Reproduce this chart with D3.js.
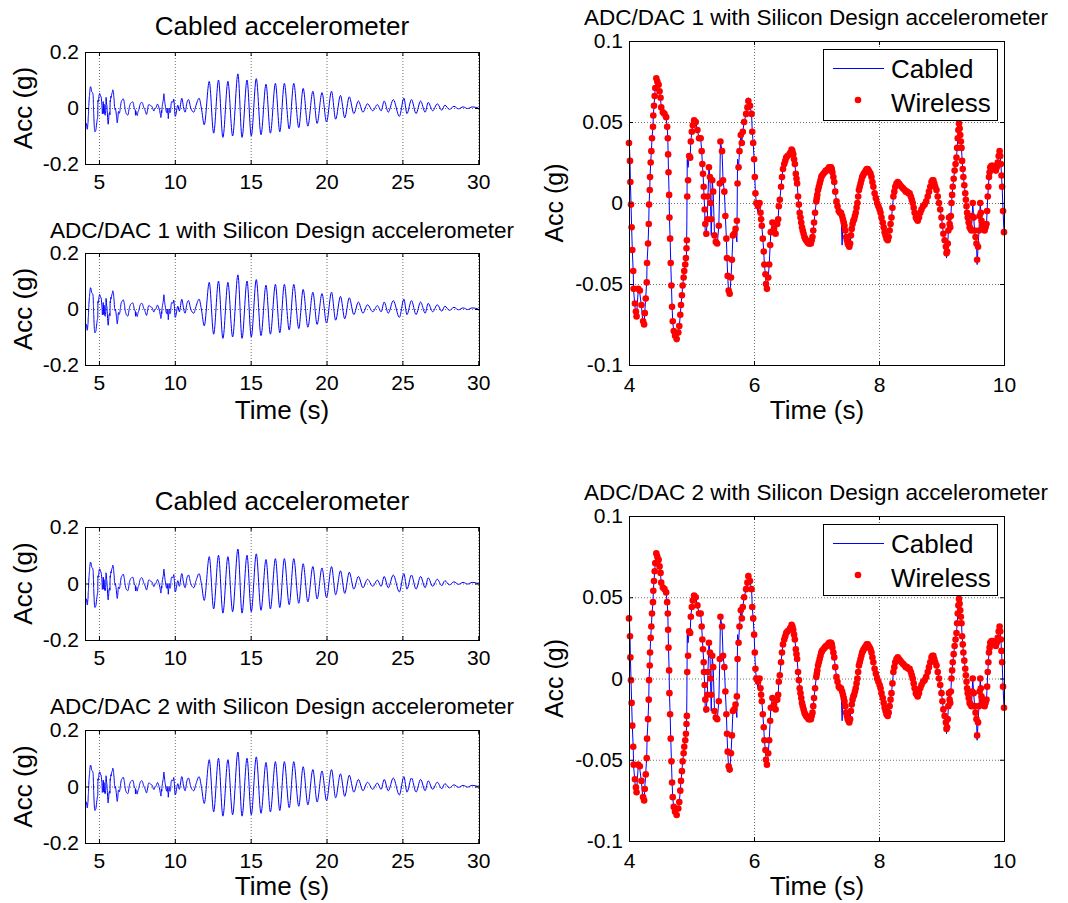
<!DOCTYPE html>
<html>
<head>
<meta charset="utf-8">
<script src="https://cdn.jsdelivr.net/npm/d3@7"></script>
<style>
body { margin: 0; background: #fff; }
svg { display: block; }
text { font-family: "Liberation Sans", Arial, sans-serif; fill: #000; }
</style>
</head>
<body>
<script>
// 4-10 s window, cabled line and wireless samples on one time base
var zoomTime = [
 4.000,4.016,4.022,4.032,4.042,4.053,4.068,4.074,4.095,4.111,
 4.121,4.147,4.174,4.200,4.226,4.242,4.253,4.268,4.284,4.289,
 4.305,4.316,4.321,4.332,4.337,4.347,4.358,4.368,4.384,4.389,
 4.400,4.411,4.421,4.437,4.453,4.474,4.489,4.505,4.516,4.542,
 4.568,4.595,4.611,4.621,4.626,4.632,4.642,4.647,4.658,4.668,
 4.679,4.689,4.700,4.716,4.737,4.763,4.789,4.805,4.821,4.832,
 4.847,4.858,4.874,4.884,4.900,4.911,4.920,4.926,4.932,4.945,
 4.963,4.979,4.989,5.005,5.021,5.042,5.068,5.095,5.121,5.147,
 5.163,5.174,5.184,5.195,5.200,5.211,5.221,5.237,5.253,5.263,
 5.279,5.295,5.305,5.316,5.332,5.347,5.368,5.389,5.411,5.437,
 5.453,5.463,5.489,5.505,5.526,5.542,5.558,5.568,5.579,5.595,
 5.611,5.632,5.647,5.663,5.684,5.705,5.726,5.737,5.753,5.768,
 5.789,5.805,5.821,5.842,5.874,5.895,5.910,5.936,5.961,5.972,
 5.987,6.002,6.013,6.023,6.038,6.064,6.089,6.105,6.115,6.125,
 6.141,6.156,6.166,6.182,6.192,6.207,6.228,6.243,6.259,6.269,
 6.295,6.320,6.346,6.372,6.387,6.397,6.413,6.433,6.448,6.464,
 6.484,6.500,6.515,6.536,6.566,6.580,6.602,6.615,6.628,6.641,
 6.654,6.669,6.680,6.690,6.705,6.718,6.731,6.744,6.756,6.768,
 6.780,6.794,6.807,6.820,6.833,6.853,6.874,6.892,6.910,6.923,
 6.936,6.948,6.961,6.977,6.997,7.005,7.013,7.025,7.038,7.051,
 7.064,7.077,7.089,7.110,7.131,7.150,7.166,7.185,7.202,7.218,
 7.233,7.244,7.254,7.270,7.284,7.300,7.320,7.336,7.356,7.375,
 7.392,7.410,7.423,7.436,7.448,7.461,7.474,7.487,7.500,7.512,
 7.525,7.538,7.551,7.564,7.577,7.590,7.602,7.615,7.628,7.641,
 7.654,7.667,7.679,7.692,7.705,7.718,7.731,7.744,7.756,7.773,
 7.790,7.805,7.820,7.835,7.850,7.865,7.880,7.895,7.910,7.930,
 7.950,7.970,7.990,8.010,8.025,8.040,8.060,8.075,8.090,8.105,
 8.120,8.140,8.155,8.170,8.185,8.200,8.215,8.230,8.245,8.260,
 8.280,8.300,8.320,8.340,8.360,8.385,8.410,8.430,8.450,8.470,
 8.490,8.510,8.525,8.540,8.555,8.570,8.590,8.605,8.620,8.640,
 8.660,8.680,8.705,8.730,8.755,8.780,8.800,8.820,8.840,8.855,
 8.870,8.885,8.900,8.920,8.940,8.960,8.980,9.000,9.015,9.030,
 9.050,9.070,9.080,9.090,9.100,9.110,9.120,9.130,9.140,9.150,
 9.160,9.170,9.180,9.195,9.210,9.225,9.240,9.250,9.260,9.270,
 9.280,9.290,9.300,9.310,9.320,9.330,9.340,9.350,9.365,9.380,
 9.390,9.400,9.410,9.420,9.435,9.450,9.465,9.480,9.490,9.500,
 9.515,9.530,9.545,9.560,9.570,9.585,9.600,9.610,9.620,9.630,
 9.640,9.650,9.660,9.675,9.690,9.705,9.720,9.730,9.740,9.750,
 9.760,9.770,9.780,9.800,9.820,9.845,9.870,9.885,9.900,9.915,
 9.930,9.940,9.950,9.960,9.970,9.985,10.000
]
var zoomCabled = [
 0.042,0.026,0.013,0.000,-0.015,-0.029,-0.043,-0.054,-0.064,-0.068,
 -0.070,-0.054,-0.056,-0.064,-0.076,-0.075,-0.067,-0.058,-0.048,-0.037,
 -0.025,-0.013,-0.001,0.008,0.016,0.025,0.032,0.040,0.047,0.054,
 0.060,0.066,0.071,0.076,0.075,0.073,0.069,0.064,0.059,0.056,
 0.055,0.052,0.047,0.040,0.030,0.019,0.005,-0.009,-0.022,-0.037,
 -0.051,-0.064,-0.073,-0.080,-0.085,-0.083,-0.080,-0.076,-0.069,-0.063,
 -0.057,-0.051,-0.046,-0.041,-0.037,-0.034,-0.032,-0.010,0.027,0.022,
 0.029,0.028,0.038,0.044,0.048,0.052,0.050,0.045,0.040,0.040,
 0.032,0.024,0.018,0.010,0.004,-0.004,-0.021,-0.019,-0.010,0.004,
 0.023,0.016,-0.002,-0.020,0.014,0.007,-0.020,-0.024,-0.026,-0.014,
 0.012,0.038,0.032,0.014,0.007,-0.008,-0.022,-0.034,-0.045,-0.056,
 -0.058,-0.046,-0.035,-0.020,-0.019,-0.016,-0.024,0.027,0.022,0.032,
 0.042,0.037,0.044,0.050,0.055,0.059,0.065,0.060,0.055,0.044,
 0.037,0.027,0.016,0.006,0.000,-0.006,0.000,-0.006,-0.010,-0.014,
 -0.022,-0.030,-0.038,-0.044,-0.050,-0.053,-0.046,-0.038,-0.026,-0.018,
 -0.012,-0.016,-0.019,-0.013,-0.010,-0.002,0.002,0.010,0.016,0.021,
 0.024,0.026,0.028,0.029,0.030,0.031,0.033,0.032,0.030,0.027,
 0.024,0.018,0.015,0.012,0.004,-0.001,-0.006,-0.009,-0.012,-0.015,
 -0.017,-0.019,-0.021,-0.022,-0.023,-0.024,-0.025,-0.025,-0.025,-0.023,
 -0.021,-0.017,-0.012,-0.006,0.001,0.003,0.005,0.008,0.010,0.012,
 0.014,0.016,0.017,0.018,0.019,0.020,0.020,0.021,0.022,0.022,
 0.022,0.021,0.019,0.016,0.013,0.007,0.001,-0.002,-0.005,-0.006,
 -0.006,-0.026,-0.010,-0.012,-0.014,-0.017,-0.021,-0.023,-0.025,-0.026,
 -0.027,-0.025,-0.020,-0.016,-0.013,-0.011,-0.010,-0.008,-0.006,-0.003,
 0.000,0.004,0.008,0.010,0.012,0.014,0.016,0.017,0.018,0.019,
 0.020,0.021,0.021,0.020,0.019,0.018,0.016,0.013,0.010,0.006,
 0.003,0.000,-0.002,-0.004,-0.006,-0.009,-0.012,-0.015,-0.018,-0.020,
 -0.022,-0.023,-0.021,-0.017,-0.013,-0.009,-0.003,0.004,0.007,0.010,
 0.012,0.013,0.012,0.011,0.010,0.009,0.008,0.007,0.007,0.006,
 0.006,0.004,0.002,0.000,-0.003,-0.006,-0.009,-0.010,-0.011,-0.009,
 -0.006,-0.004,-0.002,-0.001,0.001,0.004,0.007,0.010,0.013,0.014,
 0.014,0.012,0.010,0.008,0.004,0.000,-0.004,-0.009,-0.014,-0.019,
 -0.023,-0.027,-0.034,-0.030,-0.025,-0.017,-0.009,-0.013,-0.017,-0.008,
 0.000,0.005,0.010,0.015,0.020,0.024,0.028,0.034,0.040,0.045,
 0.051,0.046,0.042,0.038,0.034,0.026,0.021,0.016,0.011,0.006,
 0.002,-0.002,-0.006,-0.009,-0.012,-0.015,-0.016,-0.017,-0.008,0.000,
 -0.009,-0.017,-0.021,-0.025,-0.038,-0.027,-0.017,-0.008,0.000,-0.006,
 -0.011,-0.013,-0.015,-0.016,-0.017,-0.015,-0.013,-0.005,0.004,0.010,
 0.016,0.019,0.022,0.023,0.023,0.021,0.020,0.022,0.025,0.029,
 0.032,0.029,0.024,0.017,0.010,-0.005,-0.018
]
var zoomWireless = [
 0.037,0.026,0.013,-0.001,-0.015,-0.029,-0.042,-0.053,-0.062,-0.067,
 -0.070,-0.053,-0.054,-0.063,-0.073,-0.075,-0.068,-0.059,-0.049,-0.037,
 -0.025,-0.013,-0.001,0.008,0.016,0.025,0.032,0.040,0.047,0.054,
 0.060,0.066,0.071,0.077,0.075,0.073,0.069,0.065,0.059,0.056,
 0.055,0.053,0.047,0.040,0.030,0.019,0.005,-0.009,-0.022,-0.037,
 -0.051,-0.064,-0.073,-0.079,-0.082,-0.084,-0.080,-0.076,-0.069,-0.063,
 -0.057,-0.051,-0.046,-0.042,-0.038,-0.034,-0.028,-0.023,0.004,0.014,
 0.029,0.028,0.038,0.044,0.048,0.051,0.050,0.045,0.040,0.040,
 0.032,0.024,0.018,0.010,0.004,-0.004,-0.013,-0.019,-0.010,0.004,
 0.022,0.016,0.000,-0.010,0.014,0.007,-0.020,-0.024,-0.025,-0.014,
 0.012,0.038,0.032,0.014,0.007,-0.008,-0.022,-0.034,-0.045,-0.054,
 -0.056,-0.046,-0.035,-0.020,-0.019,-0.016,-0.011,0.012,0.022,0.032,
 0.042,0.037,0.044,0.050,0.055,0.059,0.063,0.060,0.055,0.044,
 0.037,0.027,0.016,0.006,0.000,-0.002,0.000,-0.006,-0.010,-0.014,
 -0.022,-0.030,-0.038,-0.044,-0.050,-0.053,-0.046,-0.038,-0.026,-0.018,
 -0.012,-0.016,-0.019,-0.013,-0.010,-0.002,0.002,0.010,0.016,0.021,
 0.024,0.026,0.028,0.029,0.030,0.031,0.033,0.032,0.030,0.027,
 0.024,0.018,0.015,0.012,0.004,-0.001,-0.006,-0.009,-0.012,-0.015,
 -0.017,-0.019,-0.021,-0.022,-0.023,-0.024,-0.025,-0.025,-0.025,-0.023,
 -0.021,-0.017,-0.012,-0.006,0.001,0.003,0.005,0.008,0.010,0.012,
 0.014,0.016,0.017,0.018,0.019,0.020,0.020,0.021,0.022,0.022,
 0.022,0.021,0.019,0.016,0.013,0.007,0.001,-0.002,-0.005,-0.006,
 -0.006,-0.008,-0.010,-0.012,-0.014,-0.017,-0.021,-0.023,-0.025,-0.026,
 -0.027,-0.025,-0.020,-0.016,-0.013,-0.011,-0.010,-0.008,-0.006,-0.003,
 0.000,0.004,0.008,0.010,0.012,0.014,0.016,0.017,0.018,0.019,
 0.020,0.021,0.021,0.020,0.019,0.018,0.016,0.013,0.010,0.006,
 0.003,0.000,-0.002,-0.004,-0.006,-0.009,-0.012,-0.015,-0.018,-0.020,
 -0.022,-0.023,-0.021,-0.017,-0.013,-0.009,-0.003,0.004,0.007,0.010,
 0.012,0.013,0.012,0.011,0.010,0.009,0.008,0.007,0.007,0.006,
 0.006,0.004,0.002,0.000,-0.003,-0.006,-0.009,-0.010,-0.011,-0.009,
 -0.006,-0.004,-0.002,-0.001,0.001,0.004,0.007,0.010,0.013,0.014,
 0.014,0.012,0.010,0.008,0.004,0.000,-0.004,-0.009,-0.014,-0.019,
 -0.023,-0.027,-0.031,-0.030,-0.025,-0.017,-0.009,-0.013,-0.015,-0.008,
 0.000,0.005,0.010,0.015,0.020,0.024,0.028,0.034,0.040,0.045,
 0.049,0.046,0.042,0.038,0.034,0.026,0.021,0.016,0.011,0.006,
 0.002,-0.002,-0.006,-0.009,-0.012,-0.015,-0.016,-0.017,-0.008,0.000,
 -0.009,-0.017,-0.021,-0.025,-0.035,-0.027,-0.017,-0.008,0.000,-0.006,
 -0.011,-0.013,-0.015,-0.016,-0.017,-0.015,-0.013,-0.005,0.004,0.010,
 0.016,0.019,0.022,0.023,0.023,0.021,0.020,0.022,0.025,0.029,
 0.032,0.029,0.024,0.017,0.010,-0.005,-0.018
]

// rest of the record, 10-30 s, peaks and troughs of the cabled trace
var longTime = [
 10.03,10.20,10.30,10.46,10.60,10.68,10.80,10.90,11.05,11.25,11.40,11.60,11.75,11.94,12.27,12.56,12.88,13.17,13.50,13.81,
 14.16,14.43,14.76,15.04,15.37,15.68,16.01,16.30,16.63,16.92,17.22,17.54,17.84,18.17,18.46,18.77,19.10,19.38,19.70,20.00,
 20.33,20.60,20.92,21.20,21.50,21.80,22.10,22.40,22.70,23.05,23.35,23.60,23.80,24.07,24.40,24.80,25.10,25.30,25.60,25.90,
 26.20,26.50,26.70,27.00,27.30,27.60,27.80,28.10,28.40,28.70,29.00,29.30,29.60,30.00
]
var longAcc = [
 -0.030,0.010,-0.010,0.035,-0.005,-0.015,0.020,0.030,0.000,-0.015,0.010,0.035,0.000,-0.060,0.095,-0.090,0.100,-0.105,0.095,-0.100,
 0.122,-0.105,0.100,-0.100,0.105,-0.095,0.085,-0.090,0.088,-0.085,0.088,-0.075,0.088,-0.070,0.070,-0.065,0.060,-0.055,0.055,-0.050,
 0.060,-0.040,0.045,-0.035,0.040,-0.020,0.025,-0.015,0.015,-0.010,0.012,-0.010,0.025,-0.015,0.030,-0.030,0.035,-0.020,0.030,-0.020,
 0.025,-0.015,0.020,-0.010,0.015,-0.008,0.010,-0.005,0.006,-0.003,0.004,-0.002,0.004,0.000
]

var smallXTicks = [5, 10, 15, 20, 25, 30]
var smallYTicks = [-0.2, 0, 0.2]
var zoomXTicks = [4, 6, 8, 10]
var zoomYTicks = [-0.1, -0.05, 0, 0.05, 0.1]
var titleCabled = "Cabled accelerometer"
var titleAdc1 = "ADC/DAC 1 with Silicon Design accelerometer"
var titleAdc2 = "ADC/DAC 2 with Silicon Design accelerometer"
var legendNames = ["Cabled", "Wireless"]

var svg = d3.select("body").append("svg").attr("width", 1068).attr("height", 903)
var clipCount = 0

function fmt(d) { return String(d) }

function frame(x, y, w, h, xDomain, yDomain, xTicks, yTicks, xPad) {
	var g = svg.append("g").attr("transform", "translate(" + x + "," + y + ")")
	var xs = d3.scaleLinear().domain(xDomain).range([0, w])
	var ys = d3.scaleLinear().domain(yDomain).range([h, 0])

	// dotted grid
	g.append("g").attr("class", "grid").attr("transform", "translate(0," + h + ")")
		.call(d3.axisBottom(xs).tickValues(xTicks).tickSize(-h).tickFormat(""))
	g.append("g").attr("class", "grid")
		.call(d3.axisLeft(ys).tickValues(yTicks).tickSize(-w).tickFormat(""))
	g.selectAll(".grid .domain").remove()
	g.selectAll(".grid line").attr("stroke", "#707070").attr("stroke-dasharray", "1,2")

	var id = "clip" + (clipCount++)
	g.append("clipPath").attr("id", id).append("rect").attr("width", w).attr("height", h)
	var plot = g.append("g").attr("clip-path", "url(#" + id + ")")

	return {g: g, plot: plot, xs: xs, ys: ys, w: w, h: h, xTicks: xTicks, yTicks: yTicks, xPad: xPad}
}

function finish(f) {
	var g = f.g
	var b = g.append("g").attr("transform", "translate(0," + f.h + ")")
		.call(d3.axisBottom(f.xs).tickValues(f.xTicks).tickSizeInner(-4).tickSizeOuter(0)
			.tickPadding(f.xPad).tickFormat(fmt))
	g.append("g").call(d3.axisTop(f.xs).tickValues(f.xTicks).tickSizeInner(-4).tickSizeOuter(0).tickFormat(""))
	var l = g.append("g")
		.call(d3.axisLeft(f.ys).tickValues(f.yTicks).tickSizeInner(-4).tickSizeOuter(0)
			.tickPadding(6).tickFormat(fmt))
	g.append("g").attr("transform", "translate(" + f.w + ",0)")
		.call(d3.axisRight(f.ys).tickValues(f.yTicks).tickSizeInner(-4).tickSizeOuter(0).tickFormat(""))
	g.selectAll(".domain").remove()
	b.attr("font-size", 21)
	l.attr("font-size", 21)
	g.append("rect").attr("x", 0.5).attr("y", 0.5).attr("width", f.w).attr("height", f.h)
		.attr("fill", "none").attr("stroke", "#000")
}

function label(x, y, txt, size, rotate) {
	var t = svg.append("text").attr("text-anchor", "middle").attr("font-size", size).text(txt)
	if (rotate) t.attr("transform", "translate(" + x + "," + y + ") rotate(-90)")
	else t.attr("x", x).attr("y", y)
}

// left column: whole record
var leftTime = zoomTime.concat(longTime)
var leftAcc = zoomCabled.concat(longAcc)

var smallPanels = [
	{y: 52, h: 112, title: titleCabled, size: 26, tb: 35, timeLabel: 0},
	{y: 253, h: 112, title: titleAdc1, size: 22.5, tb: 238, timeLabel: 419},
	{y: 527, h: 113, title: titleCabled, size: 26, tb: 510, timeLabel: 0},
	{y: 730, h: 113, title: titleAdc2, size: 22.5, tb: 714, timeLabel: 895}
]

smallPanels.forEach(function(p) {
	var f = frame(85, p.y, 394, p.h, [4.08, 30.05], [-0.2, 0.2], smallXTicks, smallYTicks, 10)
	var line = d3.line()
		.x(function(d, i) { return f.xs(leftTime[i]) })
		.y(function(d) { return f.ys(d) })
		.curve(d3.curveMonotoneX)
	f.plot.append("path").datum(leftAcc).attr("d", line)
		.attr("fill", "none").attr("stroke", "#0000ff").attr("stroke-width", 1)
	finish(f)
	label(282, p.tb, p.title, p.size)
	label(32, p.y + p.h / 2, "Acc (g)", 26, true)
	if (p.timeLabel) label(282, p.timeLabel, "Time (s)", 26)
})

// right column: 4-10 s close-up, cabled vs wireless
var zoomPanels = [
	{y: 41, h: 324, title: titleAdc1, tb: 25, timeLabel: 419},
	{y: 516, h: 325, title: titleAdc2, tb: 500, timeLabel: 895}
]

zoomPanels.forEach(function(p) {
	var f = frame(629, p.y, 375, p.h, [4, 10], [-0.1, 0.1], zoomXTicks, zoomYTicks, 12)
	var line = d3.line()
		.x(function(d, i) { return f.xs(zoomTime[i]) })
		.y(function(d) { return f.ys(d) })
	f.plot.append("path").datum(zoomCabled).attr("d", line)
		.attr("fill", "none").attr("stroke", "#0000ff").attr("stroke-width", 1)
	f.g.append("g").selectAll("circle")
		.data(zoomWireless)
		.enter()
		.append("circle")
		.attr("cx", function(d, i) { return f.xs(zoomTime[i]) })
		.attr("cy", function(d) { return f.ys(d) })
		.attr("r", 3.3)
		.attr("fill", "#ff0000")
	finish(f)

	// legend
	var lg = f.g.append("g").attr("transform", "translate(194,8)")
	lg.append("rect").attr("x", 0.5).attr("y", 0.5).attr("width", 174).attr("height", 71)
		.attr("fill", "#fff").attr("stroke", "#000")
	lg.append("line").attr("x1", 10).attr("x2", 61).attr("y1", 19.5).attr("y2", 19.5)
		.attr("stroke", "#0000ff").attr("stroke-width", 1)
	lg.append("circle").attr("cx", 35).attr("cy", 51).attr("r", 3.3).attr("fill", "#ff0000")
	lg.selectAll("text").data(legendNames).enter().append("text")
		.attr("x", 68).attr("y", function(d, i) { return 29 + i * 34 })
		.attr("font-size", 26)
		.text(function(d) { return d })

	label(816, p.tb, p.title, 22.5)
	label(563, p.y + p.h / 2, "Acc (g)", 25, true)
	label(817, p.timeLabel, "Time (s)", 26)
})
</script>
</body>
</html>
